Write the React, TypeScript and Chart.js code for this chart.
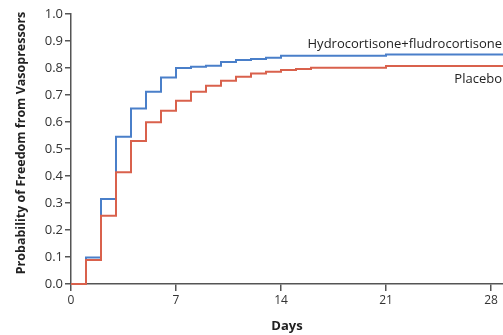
import React, { useEffect, useRef } from "react";
import { Chart, registerables } from "chart.js";

Chart.register(...registerables);

const days = [0, 1, 2, 3, 4, 5, 6, 7, 8, 9, 10, 11, 12, 13, 14, 15, 16, 21, 28.8];
const hydroFludro = [0, 0.098, 0.315, 0.545, 0.65, 0.712, 0.765, 0.8, 0.805, 0.808, 0.822, 0.83, 0.833, 0.838, 0.845, 0.845, 0.845, 0.85, 0.85];
const placebo = [0, 0.089, 0.253, 0.414, 0.53, 0.599, 0.642, 0.679, 0.712, 0.734, 0.753, 0.768, 0.78, 0.786, 0.793, 0.796, 0.801, 0.807, 0.807];
const xTicks = [0, 7, 14, 21, 28];
const seriesNames = ["Hydrocortisone+fludrocortisone", "Placebo"];
const labelYs = [0.874, 0.744];
const yTitle = "Probability of Freedom from Vasopressors";

const BLUE = "#4a7fc9";
const RED = "#d9614c";
const FONT = "'Open Sans', 'Noto Sans', sans-serif";

const labelPlugin = {
  id: "seriesLabels",
  afterDatasetsDraw(chart: any) {
    const { ctx, scales } = chart;
    const x = scales.x.right;
    ctx.save();
    ctx.font = `13px ${FONT}`;
    ctx.fillStyle = "#222";
    ctx.textAlign = "right";
    ctx.textBaseline = "alphabetic";
    seriesNames.forEach((n, i) => {
      ctx.fillText(n, x - 1, scales.y.getPixelForValue(labelYs[i]));
    });
    ctx.restore();
    // y axis title
    ctx.save();
    ctx.font = `bold 12.5px ${FONT}`;
    ctx.fillStyle = "#222";
    ctx.textAlign = "center";
    ctx.textBaseline = "middle";
    const cy = (scales.y.top + scales.y.bottom) / 2 - 6;
    ctx.translate(21, cy);
    ctx.rotate(-Math.PI / 2);
    ctx.fillText(yTitle, 0, 0);
    ctx.restore();
  },
};

export default function App() {
  const ref = useRef<HTMLCanvasElement>(null);
  useEffect(() => {
    const c = ref.current!;
    const toPts = (vals: number[]) => days.map((d, i) => ({ x: d, y: vals[i] }));
    const chart = new Chart(c, {
      type: "line",
      data: {
        datasets: [
          {
            label: seriesNames[1],
            data: toPts(placebo),
            borderColor: RED,
            borderWidth: 2,
            pointRadius: 0,
            stepped: "before",
            fill: false,
            clip: false,
          },
          {
            label: seriesNames[0],
            data: toPts(hydroFludro),
            borderColor: BLUE,
            borderWidth: 2,
            pointRadius: 0,
            stepped: "before",
            fill: false,
            clip: false,
          },
        ],
      },
      options: {
        responsive: false,
        animation: false,
        layout: { padding: { top: 14, left: 0, right: 0, bottom: 0 } },
        plugins: { legend: { display: false }, tooltip: { enabled: false } },
        scales: {
          x: {
            type: "linear",
            min: 0,
            max: 28.8,
            afterBuildTicks: (s: any) => {
              s.ticks = xTicks.map((v) => ({ value: v }));
            },
            afterFit: (s: any) => {
              s.height = 51;
            },
            border: { color: "#555", width: 1.5 },
            grid: { drawOnChartArea: false, drawTicks: true, tickLength: 7, color: "#555", lineWidth: 1.5 },
            ticks: { color: "#333", font: { family: FONT, size: 12 }, padding: 2, maxRotation: 0 },
            title: {
              display: true,
              text: "Days",
              color: "#222",
              font: { family: FONT, size: 13, weight: "bold" },
              padding: { top: 0, bottom: 1 },
            },
          },
          y: {
            type: "linear",
            min: 0,
            max: 1,
            afterFit: (s: any) => {
              s.width = 71;
            },
            border: { color: "#555", width: 1.5 },
            grid: { drawOnChartArea: false, drawTicks: true, tickLength: 6, color: "#555", lineWidth: 1.5 },
            ticks: {
              stepSize: 0.1,
              color: "#333",
              font: { family: FONT, size: 13 },
              padding: 2,
              callback: (v: any) => Number(v).toFixed(1),
            },
            title: { display: false },
          },
        },
      },
      plugins: [labelPlugin],
    });
    return () => chart.destroy();
  }, []);
  return (
    <div style={{ position: "absolute", left: 0, top: 0, width: 503, height: 335, background: "#fff" }}>
      <canvas ref={ref} width={503} height={335} style={{ display: "block" }} />
    </div>
  );
}
